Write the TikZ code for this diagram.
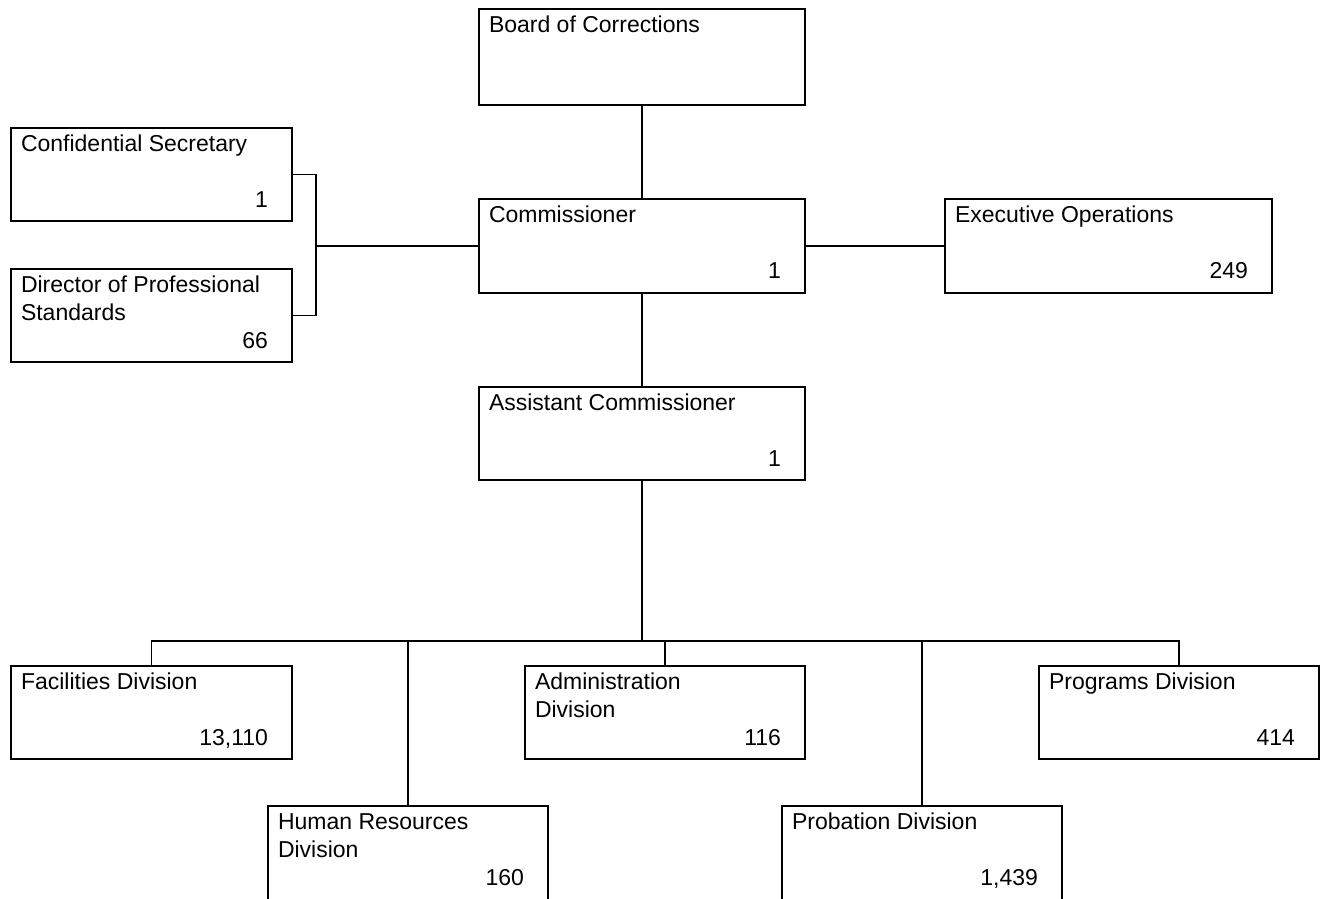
\documentclass[tikz,border=0pt]{standalone}
\usepackage{fontspec}
\setmainfont{Liberation Sans}
\newcommand{\twolines}[2]{\vtop{\baselineskip=28pt\hbox{#1}\hbox{#2}}}
\begin{document}
\begin{tikzpicture}[x=1pt,y=-1pt,
  line width=1.6pt,
  orgbox/.style={draw=black,fill=white,rectangle,inner sep=0pt,line width=1.6pt},
  ttl/.style={anchor=base west,inner sep=0pt,font=\fontsize{23}{28}\selectfont},
  num/.style={anchor=base east,inner sep=0pt,font=\fontsize{23}{28}\selectfont}]
\clip (0,0) rectangle (1325,898);
\fill[white] (0,0) rectangle (1325,898);
\newcommand{\obox}[7]{%
  \node[orgbox,minimum width=#4-#2,minimum height=#5-#3] (#1) at ({(#2+#4)/2},{(#3+#5)/2}) {};
  \node[ttl] (#1t) at ([xshift=10pt,yshift=-24.5pt]#1.north west) {#6};
  \node[num] (#1n) at ([xshift=-24pt,yshift=-80.5pt]#1.north east) {#7};}
\obox{board}{479}{9}{805}{105}{Board of Corrections}{}
\obox{conf}{11}{128}{292}{221}{Confidential Secretary}{1}
\obox{dir}{11}{269}{292}{362}{\twolines{Director of Professional}{Standards}}{66}
\obox{comm}{479}{199}{805}{293}{Commissioner}{1}
\obox{exec}{945}{199}{1272}{293}{Executive Operations}{249}
\obox{asst}{479}{387}{805}{480}{Assistant Commissioner}{1}
\obox{fac}{11}{666}{292}{759}{Facilities Division}{13,110}
\obox{hr}{268}{806}{548}{906}{\twolines{Human Resources}{Division}}{160}
\obox{adm}{525}{666}{805}{759}{\twolines{Administration}{Division}}{116}
\obox{prob}{782}{806}{1062}{906}{Probation Division}{1,439}
\obox{prog}{1039}{666}{1319}{759}{Programs Division}{414}
% connectors
\coordinate (bus) at (642,641);
\coordinate (brk) at (316,246);
\draw (board.south) -- (comm.north);
\draw (comm.south) -- (asst.north);
\draw (asst.south) -- (bus);
\draw (fac.north) |- (bus) -| (prog.north);
\draw (hr.north) -- (hr.north |- bus);
\draw (adm.north) -- (adm.north |- bus);
\draw (prob.north) -- (prob.north |- bus);
\draw (conf.east) -| (brk) |- (dir.east);
\draw (brk) -- (comm.west);
\draw (comm.east) -- (exec.west);
\end{tikzpicture}
\end{document}
